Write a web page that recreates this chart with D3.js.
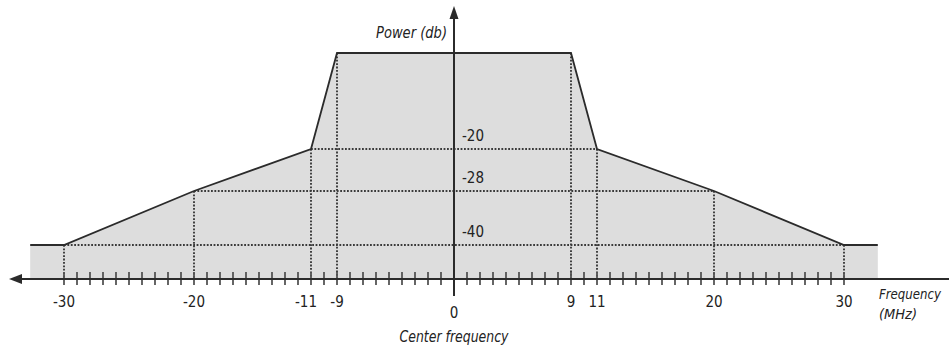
<!DOCTYPE html>
<html><head><meta charset="utf-8">
<script src="https://cdn.jsdelivr.net/npm/d3@7"></script>
<style>
body{margin:0;background:#fff;}
text{font-family:"DejaVu Sans Condensed","Liberation Sans Narrow","Open Sans",sans-serif;fill:#222;}
</style></head>
<body><svg id="c" width="949" height="349"></svg>
<script>
// spectral mask profile (frequency MHz, power dB)
const maskFreq  = [-32.6, -30, -20, -11, -9, 9, 11, 20, 30, 32.6];
const maskPower = [-40, -40, -28, -20, 0, 0, -20, -28, -40, -40];
// reference levels and their labels
const levels      = [-20, -28, -40];
const levelLabels = ["-20", "-28", "-40"];
const levelSpan   = [11, 20, 30];
// labelled frequencies
const freqTicks  = [-30, -20, -11, -9, 0, 9, 11, 20, 30];
const freqLabels = ["-30", "-20", "-11", "-9", "0", "9", "11", "20", "30"];
const minorTicks = d3.range(-30, 31, 1);

const svg = d3.select("#c");
const x = d3.scaleLinear().domain([0, 30]).range([454, 844]);
const y = d3.scaleLinear().domain([0, -20, -28, -40]).range([53, 149, 191, 245]);
const axisY = 279;
const dark = "#2b2b2b";
const dotStyle = sel => sel.attr("stroke", "#3a3a3a").attr("stroke-width", 1.9).attr("stroke-dasharray", "1.8,1.6");

const pts = maskFreq.map((f, i) => [f, maskPower[i]]);

// shaded area
svg.append("path")
  .datum(pts)
  .attr("d", d3.area().x(d => x(d[0])).y0(axisY).y1(d => y(d[1])))
  .attr("fill", "#dddddd");

// dotted horizontal level lines
levels.forEach((lv, i) => {
  svg.append("line")
    .attr("x1", x(-levelSpan[i])).attr("x2", x(levelSpan[i]))
    .attr("y1", y(lv)).attr("y2", y(lv)).call(dotStyle);
});
// dotted verticals at corner frequencies
pts.slice(1, -1).forEach(d => {
  svg.append("line")
    .attr("x1", x(d[0])).attr("x2", x(d[0]))
    .attr("y1", y(d[1])).attr("y2", axisY).call(dotStyle);
});

// mask outline
svg.append("path")
  .datum(pts)
  .attr("d", d3.line().x(d => x(d[0])).y(d => y(d[1])))
  .attr("fill", "none").attr("stroke", dark).attr("stroke-width", 1.8);

// minor ticks
svg.selectAll(".mt").data(minorTicks).enter().append("line")
  .attr("x1", d => x(d)).attr("x2", d => x(d))
  .attr("y1", axisY - 7).attr("y2", axisY + 6)
  .attr("stroke", "#555").attr("stroke-width", 1.8);

// x axis with left arrow
svg.append("line").attr("x1", 14).attr("x2", 949).attr("y1", axisY).attr("y2", axisY)
  .attr("stroke", dark).attr("stroke-width", 2);
svg.append("path").attr("d", `M9,${axisY} L22,${axisY-5} L22,${axisY+5} Z`).attr("fill", dark);

// y axis with up arrow
svg.append("line").attr("x1", x(0)).attr("x2", x(0)).attr("y1", 14).attr("y2", 296)
  .attr("stroke", dark).attr("stroke-width", 2);
svg.append("path").attr("d", `M${x(0)},6 L${x(0)-4.5},19 L${x(0)+4.5},19 Z`).attr("fill", dark);

// frequency tick labels
freqTicks.forEach((f, i) => {
  let dx = 0;
  if (f === -11) dx = -5;
  svg.append("text")
    .attr("x", x(f) + dx).attr("y", f === 0 ? 318 : 307)
    .attr("text-anchor", "middle").attr("font-size", 15)
    .text(freqLabels[i]);
});

// level labels
levels.forEach((lv, i) => {
  svg.append("text").attr("x", 462).attr("y", y(lv) - 8)
    .attr("font-size", 15).text(levelLabels[i]);
});

// axis titles
const title = (tx, ty, anchor, w, s, fs) => svg.append("text").attr("x", tx).attr("y", ty)
  .attr("text-anchor", anchor).attr("font-size", fs).attr("font-style", "italic")
  .attr("textLength", w).attr("lengthAdjust", "spacingAndGlyphs").text(s);
title(447, 38, "end", 71, "Power (db)", 15);
title(454, 342, "middle", 109, "Center frequency", 15);
title(879, 299, "start", 62, "Frequency", 13.5);
title(879, 319, "start", 38, "(MHz)", 13.5);
</script></body></html>
